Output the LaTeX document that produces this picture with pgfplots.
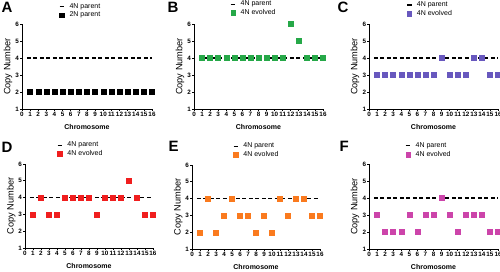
\documentclass[border=0pt]{standalone}
\usepackage{fontspec}
\setmainfont{Liberation Sans}
\usepackage{pgfplots}
\pgfplotsset{compat=1.18}
\definecolor{cgreen}{RGB}{38,168,72}
\definecolor{cpurple}{RGB}{104,88,190}
\definecolor{cred}{RGB}{240,30,30}
\definecolor{corange}{RGB}{250,122,30}
\definecolor{cmagenta}{RGB}{204,68,170}
\pgfplotsset{
 panel/.style={
  scale only axis, anchor=south west,
  xmin=0,xmax=16,ymin=1,ymax=6,
  axis x line=bottom, axis y line=left,
  axis line style={-, line width=0.9pt, black},
  xtick={0,...,16}, ytick={1,...,6},
  tick align=outside, major tick length=2pt,
  tick style={line width=0.7pt, black},
  /pgf/number format/assume math mode=true,
  ticklabel style={font=\bfseries\fontsize{6.3}{7}\selectfont},
  xticklabel style={inner sep=0.8pt},
  yticklabel style={inner sep=0.8pt},
  xlabel={Chromosome},
  xlabel style={font=\bfseries\fontsize{7}{8}\selectfont, at={(axis description cs:0.5,0)}, anchor=center, yshift=-18pt},
  ylabel={Copy Number},
  ylabel style={font=\fontsize{9.2}{10}\selectfont, at={(axis description cs:-0.108,0.5)}, anchor=center, rotate=0},
  legend style={draw=none, fill=none, inner sep=0pt, outer sep=0pt, anchor=north west,
    font=\fontsize{7}{8.5}\selectfont, row sep=0.6pt,
    nodes={inner sep=0.8pt},
    /tikz/every odd column/.append style={column sep=4pt}},
  legend cell align=left,
  clip=false,
 },
 parent/.style={black, line width=1.2pt, dash pattern=on 4pt off 2.5pt,
   legend image code/.code={\draw[black,line width=1.2pt,solid](0pt,0pt)--(4.5pt,0pt);}},
 evo/.style={only marks, mark=square*, mark size=2.5pt, color=#1, mark options={fill=#1, draw=#1, solid},
   legend image code/.code={\fill[#1](0pt,-2.3pt) rectangle (4.6pt,2.3pt);}},
}
\begin{document}
\begin{tikzpicture}
\useasboundingbox (0,0) rectangle (500pt,-271pt);
\tikzset{panlab/.style={anchor=north west, inner sep=0pt, font=\bfseries\fontsize{15}{15}\selectfont}}
\node[panlab] at (1.5pt,-2pt) {A};
\node[panlab] at (167.5pt,-2pt) {B};
\node[panlab] at (337.5pt,-2pt) {C};
\node[panlab] at (1.5pt,-142pt) {D};
\node[panlab] at (168.5pt,-141pt) {E};
\node[panlab] at (339.5pt,-141pt) {F};

% A
\begin{axis}[panel, at={(22pt,-109pt)}, width=130pt, height=85pt,
  legend style={at={(0.285,1.25)}}]
\addplot[parent] coordinates {(0.6,4) (16,4)};
\addlegendentry{4N parent}
\addplot[evo=black] coordinates {(1,2)(2,2)(3,2)(4,2)(5,2)(6,2)(7,2)(8,2)(9,2)(10,2)(11,2)(12,2)(13,2)(14,2)(15,2)(16,2)};
\addlegendentry{2N parent}
\end{axis}

% B
\begin{axis}[panel, at={(194pt,-109pt)}, width=129pt, height=85pt,
  legend style={at={(0.28,1.28)}}]
\addplot[parent] coordinates {(0.6,4) (16,4)};
\addlegendentry{4N parent}
\addplot[evo=cgreen] coordinates {(1,4)(2,4)(3,4)(4,4)(5,4)(6,4)(7,4)(8,4)(9,4)(10,4)(11,4)(12,6)(13,5)(14,4)(15,4)(16,4)};
\addlegendentry{4N evolved}
\end{axis}

% C
\begin{axis}[panel, at={(369pt,-109pt)}, width=129pt, height=85pt,
  legend style={at={(0.29,1.27)}}]
\addplot[parent] coordinates {(0.6,4) (16,4)};
\addlegendentry{4N parent}
\addplot[evo=cpurple] coordinates {(1,3)(2,3)(3,3)(4,3)(5,3)(6,3)(7,3)(8,3)(9,4)(10,3)(11,3)(12,3)(13,4)(14,4)(15,3)(16,3)};
\addlegendentry{4N evolved}
\end{axis}

% D
\begin{axis}[panel, at={(25pt,-248pt)}, width=128pt, height=84pt,
  legend style={at={(0.25,1.27)}}]
\addplot[parent] coordinates {(0.6,4) (16,4)};
\addlegendentry{4N parent}
\addplot[evo=cred] coordinates {(1,3)(2,4)(3,3)(4,3)(5,4)(6,4)(7,4)(8,4)(9,3)(10,4)(11,4)(12,4)(13,5)(14,4)(15,3)(16,3)};
\addlegendentry{4N evolved}
\end{axis}

% E
\begin{axis}[panel, at={(192pt,-249pt)}, width=128pt, height=84pt,
  legend style={at={(0.32,1.27)}}]
\addplot[parent] coordinates {(0.6,4) (16,4)};
\addlegendentry{4N parent}
\addplot[evo=corange] coordinates {(1,2)(2,4)(3,2)(4,3)(5,4)(6,3)(7,3)(8,2)(9,3)(10,2)(11,4)(12,3)(13,4)(14,4)(15,3)(16,3)};
\addlegendentry{4N evolved}
\end{axis}

% F
\begin{axis}[panel, at={(369pt,-249pt)}, width=129pt, height=85pt,
  legend style={at={(0.28,1.26)}}]
\addplot[parent] coordinates {(0.6,4) (16,4)};
\addlegendentry{4N parent}
\addplot[evo=cmagenta] coordinates {(1,3)(2,2)(3,2)(4,2)(5,3)(6,2)(7,3)(8,3)(9,4)(10,3)(11,2)(12,3)(13,3)(14,3)(15,2)(16,2)};
\addlegendentry{4N evolved}
\end{axis}
\end{tikzpicture}
\end{document}
